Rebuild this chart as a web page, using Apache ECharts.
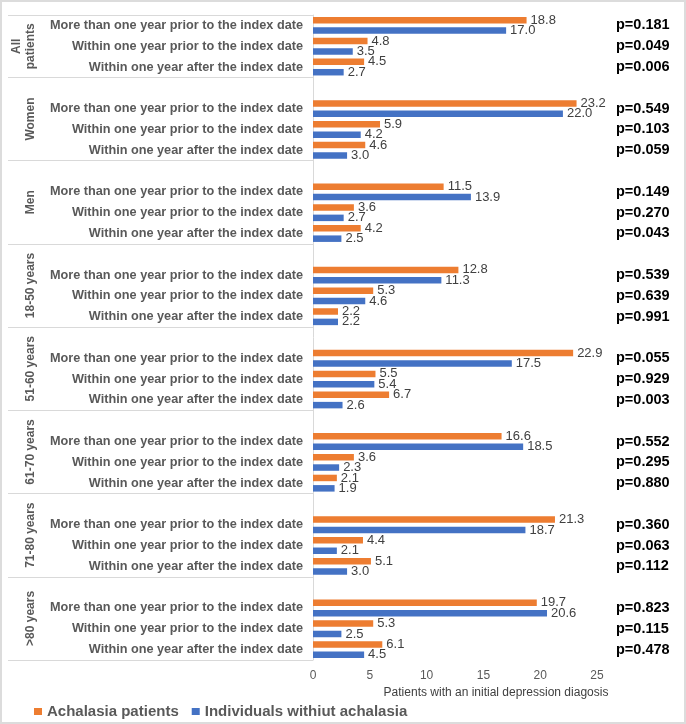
<!DOCTYPE html>
<html>
<head>
<meta charset="utf-8">
<title>Depression diagnosis</title>
<script src="https://cdn.jsdelivr.net/npm/echarts@6/dist/echarts.min.js"></script>
<style>
  html, body { margin: 0; padding: 0; background: #fff; }
  #main { width: 686px; height: 724px; box-sizing: border-box; border: 2px solid #dcdcdc; }
</style>
</head>
<body>
<div id="main"></div>
<script type="text/javascript">
// groups (left, rotated) and periods (one row each)
var groups = ['All\npatients', 'Women', 'Men', '18-50 years', '51-60 years', '61-70 years', '71-80 years', '>80 years'];
var periods = ['More than one year prior to the index date',
               'Within one year prior to the index date',
               'Within one year after the index date'];
var seriesNames = ['Achalasia patients', 'Individuals withiut achalasia'];

// values per group, in period order
var achalasia = [
  [18.8, 4.8, 4.5], [23.2, 5.9, 4.6], [11.5, 3.6, 4.2], [12.8, 5.3, 2.2],
  [22.9, 5.5, 6.7], [16.6, 3.6, 2.1], [21.3, 4.4, 5.1], [19.7, 5.3, 6.1]
];
var withoutAchalasia = [
  [17.0, 3.5, 2.7], [22.0, 4.2, 3.0], [13.9, 2.7, 2.5], [11.3, 4.6, 2.2],
  [17.5, 5.4, 2.6], [18.5, 2.3, 1.9], [18.7, 2.1, 3.0], [20.6, 2.5, 4.5]
];
var pValues = [
  ['0.181', '0.049', '0.006'], ['0.549', '0.103', '0.059'], ['0.149', '0.270', '0.043'],
  ['0.539', '0.639', '0.991'], ['0.055', '0.929', '0.003'], ['0.552', '0.295', '0.880'],
  ['0.360', '0.063', '0.112'], ['0.823', '0.115', '0.478']
];
var xTicks = [0, 5, 10, 15, 20, 25];

// build rows: a blank spacer row before every group except the first
var rowLabels = [], pLabels = [], orangeData = [], blueData = [];
var separators = [-0.5], groupCenters = [], groupNameAt = {};
groups.forEach(function (g, gi) {
  if (gi > 0) {
    separators.push(rowLabels.length - 0.5);
    rowLabels.push(''); pLabels.push(''); orangeData.push(null); blueData.push(null);
  }
  var start = gi > 0 ? rowLabels.length - 1 : 0;
  periods.forEach(function (p, pi) {
    rowLabels.push(p);
    pLabels.push('p=' + pValues[gi][pi]);
    orangeData.push(achalasia[gi][pi]);
    blueData.push(withoutAchalasia[gi][pi]);
  });
  var c = (start + rowLabels.length - 1) / 2;
  groupCenters.push(c);
  groupNameAt[c] = g;
});
var nRows = rowLabels.length;
separators.push(nRows - 0.5);

var myChart = echarts.init(document.getElementById('main'));
var font = 'Liberation Sans, Arial, sans-serif';

var barLabel = {
  show: true, position: 'right', distance: 4,
  color: '#404040', fontSize: 13, fontFamily: font,
  formatter: function (p) { return p.value == null ? '' : p.value.toFixed(1); }
};

option = {
  animation: false,
  textStyle: { fontFamily: font },
  grid: { left: 311, right: 87, top: 13, bottom: 62 },
  legend: {
    left: 27, top: 697,
    itemWidth: 8, itemHeight: 7, itemGap: 13,
    icon: 'rect',
    textStyle: { color: '#595959', fontSize: 15, fontWeight: 'bold', fontFamily: font },
    data: seriesNames
  },
  xAxis: {
    type: 'value', min: xTicks[0], max: xTicks[xTicks.length - 1], interval: 5,
    axisLine: { show: false }, axisTick: { show: false }, splitLine: { show: false },
    axisLabel: { color: '#595959', fontSize: 12, margin: 10 },
    name: 'Patients with an initial depression diagosis',
    nameLocation: 'middle', nameGap: 25,
    nameTextStyle: { color: '#404040', fontSize: 12, padding: [0, 0, 0, 82] }
  },
  yAxis: [
    {
      type: 'category', data: rowLabels, inverse: true,
      axisLine: { show: false }, axisTick: { show: false },
      axisLabel: { color: '#595959', fontSize: 12.7, fontWeight: 'bold', margin: 10, interval: 0 }
    },
    {
      type: 'category', data: pLabels, inverse: true, position: 'right',
      axisLine: { show: false }, axisTick: { show: false },
      axisLabel: { color: '#000', fontSize: 14.5, fontWeight: 'bold', margin: 19, interval: 0 }
    },
    {
      // vertical line and group separators
      type: 'value', position: 'left', inverse: true, min: -0.5, max: nRows - 0.5,
      axisLine: { show: true, lineStyle: { color: '#d9d9d9', width: 1 } },
      axisTick: { show: true, customValues: separators, length: 305, lineStyle: { color: '#d9d9d9', width: 1 } },
      axisLabel: { show: false }, splitLine: { show: false }
    },
    {
      // group names
      type: 'value', position: 'left', offset: 268, inverse: true, min: -0.5, max: nRows - 0.5,
      axisLine: { show: false }, axisTick: { show: false }, splitLine: { show: false },
      axisLabel: {
        show: true, customValues: groupCenters, rotate: 90, margin: 7,
        color: '#595959', fontSize: 12, fontWeight: 'bold', lineHeight: 14,
        formatter: function (v) { return groupNameAt[v] || ''; }
      }
    }
  ],
  series: [
    {
      name: seriesNames[0], type: 'bar', yAxisIndex: 0, data: orangeData,
      itemStyle: { color: '#ED7D31' }, barWidth: 6.5, barGap: '60%', label: barLabel
    },
    {
      name: seriesNames[1], type: 'bar', yAxisIndex: 0, data: blueData,
      itemStyle: { color: '#4472C4' }, barWidth: 6.5, label: barLabel
    }
  ]
};
myChart.setOption(option);
</script>
</body>
</html>
